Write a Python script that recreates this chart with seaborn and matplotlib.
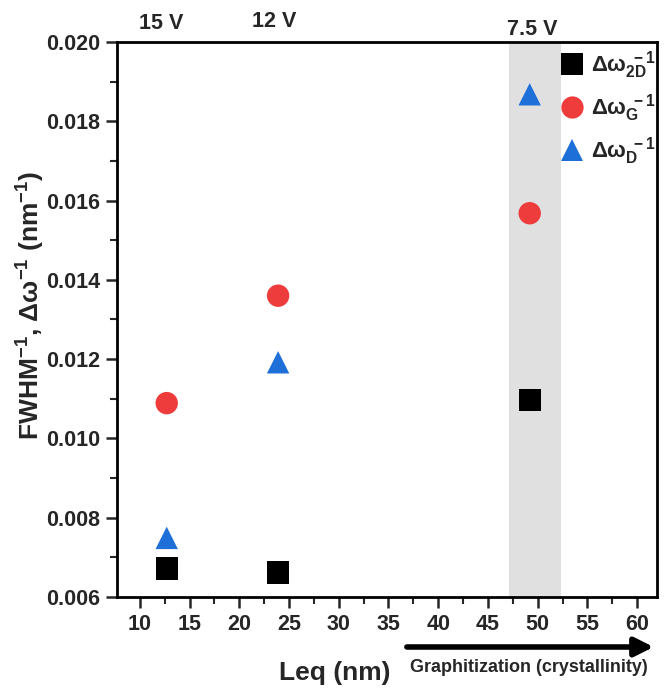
import matplotlib
matplotlib.use('Agg')
import matplotlib.pyplot as plt
import matplotlib.transforms as mtransforms
from matplotlib.ticker import MultipleLocator
import seaborn as sns
import pandas as pd

sns.set_theme(style='white')
plt.rcParams['font.family'] = ['Liberation Sans', 'DejaVu Sans']
plt.rcParams['font.weight'] = 'bold'
plt.rcParams['mathtext.fontset'] = 'custom'
plt.rcParams['mathtext.rm'] = 'Liberation Sans:bold'
plt.rcParams['mathtext.it'] = 'Liberation Sans:bold'
plt.rcParams['mathtext.bf'] = 'Liberation Sans:bold'
plt.rcParams['mathtext.default'] = 'bf'

# data
leq = [12.7, 23.9, 49.2]
voltages = ['15 V', '12 V', '7.5 V']
inv_2d = [0.00672, 0.00662, 0.01097]
inv_g = [0.01089, 0.01360, 0.01568]
inv_d = [0.00749, 0.01192, 0.01868]
series_names = [r'$\Delta\omega_{2D}^{\ -1}$', r'$\Delta\omega_{G}^{\ -1}$', r'$\Delta\omega_{D}^{\ -1}$']

df = pd.DataFrame({
    'Leq': leq * 3,
    'val': inv_2d + inv_g + inv_d,
    'series': [s for s in series_names for _ in leq],
})

palette = dict(zip(series_names, ['#000000', '#ee3b3b', '#1f6fd8']))
markers = dict(zip(series_names, ['s', 'o', '^']))

fig = plt.figure(figsize=(6.67, 6.88), dpi=100)
ax = fig.add_axes([0.1754, 0.1323, 0.8096, 0.8067])

ax.axvspan(47.1, 52.3, color='#e0e0e0', zorder=0, lw=0)

sns.scatterplot(data=df, x='Leq', y='val', hue='series', style='series',
                palette=palette, markers=markers, s=260, linewidth=0,
                ax=ax, zorder=3)

ax.set_xlim(7.7, 62.0)
ax.set_ylim(0.006, 0.020)
ax.xaxis.set_major_locator(MultipleLocator(5))
ax.xaxis.set_minor_locator(MultipleLocator(2.5))
ax.yaxis.set_major_locator(MultipleLocator(0.002))
ax.yaxis.set_minor_locator(MultipleLocator(0.001))
ax.yaxis.set_major_formatter(matplotlib.ticker.FormatStrFormatter('%.3f'))

ax.tick_params(axis='both', which='major', direction='out', length=8, width=1.8,
               labelsize=15.5, bottom=True, left=True, top=False, right=False, pad=4)
ax.tick_params(axis='both', which='minor', direction='out', length=5, width=1.5,
               bottom=True, left=True, top=False, right=False)
for lab in ax.get_xticklabels() + ax.get_yticklabels():
    lab.set_fontweight('bold')

for sp in ax.spines.values():
    sp.set_visible(True)
    sp.set_linewidth(2)
    sp.set_color('black')

ax.set_xlabel('Leq (nm)', fontsize=19, fontweight='bold')
ax.xaxis.set_label_coords(0.404, -0.115)
ax.set_ylabel(r'FWHM$^{-1}$, $\Delta\omega^{-1}$ (nm$^{-1}$)', fontsize=19,
              fontweight='bold')
ax.yaxis.set_label_coords(-0.13, 0.526)

# voltage labels above the axes
trans = mtransforms.blended_transform_factory(ax.transData, ax.transAxes)
for xv, txt, yy in zip([12.1, 23.5, 49.5], voltages, [1.034, 1.036, 1.022]):
    ax.text(xv, yy, txt, transform=trans, ha='center', va='center',
            fontsize=15.5, fontweight='bold')

leg = ax.legend(loc='upper right', frameon=False, fontsize=16,
                handletextpad=0.35, labelspacing=0.5, borderaxespad=0.0,
                handlelength=1.0, bbox_to_anchor=(1.013, 1.003))
for h in leg.legend_handles:
    h.set_markersize(16)

# graphitization arrow below the axis
ax.annotate('', xy=(0.980, 0.0596), xytext=(0.610, 0.0596),
            xycoords='figure fraction', textcoords='figure fraction',
            arrowprops=dict(arrowstyle='-|>', lw=4, color='black',
                            mutation_scale=28, shrinkA=0, shrinkB=0))
fig.text(0.793, 0.0305, 'Graphitization (crystallinity)', ha='center', va='center',
         fontsize=13, fontweight='bold')

fig.savefig('out.png', dpi=100)
